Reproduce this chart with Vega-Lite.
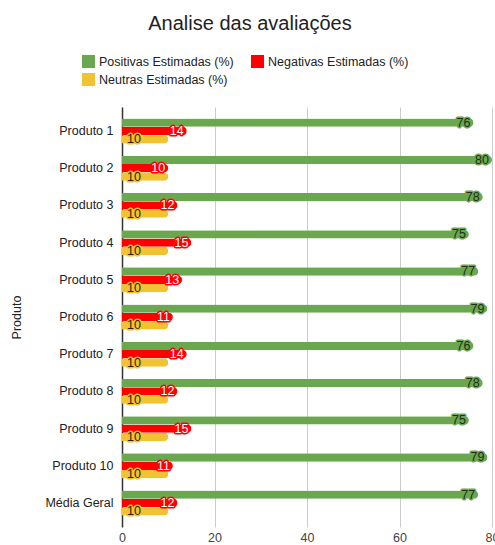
{
  "$schema": "https://vega.github.io/schema/vega-lite/v6.json",
  "autosize": "none",
  "width": 370,
  "height": 420,
  "padding": {"left": 122, "top": 107, "right": 3, "bottom": 18},
  "config": {
    "font": "Liberation Sans",
    "view": {"stroke": null}
  },
  "title": {
    "text": "Analise das avaliações",
    "fontSize": 20,
    "fontWeight": "normal",
    "color": "#222222",
    "anchor": "middle",
    "dx": -57,
    "dy": -17
  },
  "data": {
    "values": [
      {"produto": "Produto 1", "serie": "Positivas Estimadas (%)", "valor": 76},
      {"produto": "Produto 1", "serie": "Negativas Estimadas (%)", "valor": 14},
      {"produto": "Produto 1", "serie": "Neutras Estimadas (%)", "valor": 10},
      {"produto": "Produto 2", "serie": "Positivas Estimadas (%)", "valor": 80},
      {"produto": "Produto 2", "serie": "Negativas Estimadas (%)", "valor": 10},
      {"produto": "Produto 2", "serie": "Neutras Estimadas (%)", "valor": 10},
      {"produto": "Produto 3", "serie": "Positivas Estimadas (%)", "valor": 78},
      {"produto": "Produto 3", "serie": "Negativas Estimadas (%)", "valor": 12},
      {"produto": "Produto 3", "serie": "Neutras Estimadas (%)", "valor": 10},
      {"produto": "Produto 4", "serie": "Positivas Estimadas (%)", "valor": 75},
      {"produto": "Produto 4", "serie": "Negativas Estimadas (%)", "valor": 15},
      {"produto": "Produto 4", "serie": "Neutras Estimadas (%)", "valor": 10},
      {"produto": "Produto 5", "serie": "Positivas Estimadas (%)", "valor": 77},
      {"produto": "Produto 5", "serie": "Negativas Estimadas (%)", "valor": 13},
      {"produto": "Produto 5", "serie": "Neutras Estimadas (%)", "valor": 10},
      {"produto": "Produto 6", "serie": "Positivas Estimadas (%)", "valor": 79},
      {"produto": "Produto 6", "serie": "Negativas Estimadas (%)", "valor": 11},
      {"produto": "Produto 6", "serie": "Neutras Estimadas (%)", "valor": 10},
      {"produto": "Produto 7", "serie": "Positivas Estimadas (%)", "valor": 76},
      {"produto": "Produto 7", "serie": "Negativas Estimadas (%)", "valor": 14},
      {"produto": "Produto 7", "serie": "Neutras Estimadas (%)", "valor": 10},
      {"produto": "Produto 8", "serie": "Positivas Estimadas (%)", "valor": 78},
      {"produto": "Produto 8", "serie": "Negativas Estimadas (%)", "valor": 12},
      {"produto": "Produto 8", "serie": "Neutras Estimadas (%)", "valor": 10},
      {"produto": "Produto 9", "serie": "Positivas Estimadas (%)", "valor": 75},
      {"produto": "Produto 9", "serie": "Negativas Estimadas (%)", "valor": 15},
      {"produto": "Produto 9", "serie": "Neutras Estimadas (%)", "valor": 10},
      {"produto": "Produto 10", "serie": "Positivas Estimadas (%)", "valor": 79},
      {"produto": "Produto 10", "serie": "Negativas Estimadas (%)", "valor": 11},
      {"produto": "Produto 10", "serie": "Neutras Estimadas (%)", "valor": 10},
      {"produto": "Média Geral", "serie": "Positivas Estimadas (%)", "valor": 77},
      {"produto": "Média Geral", "serie": "Negativas Estimadas (%)", "valor": 12},
      {"produto": "Média Geral", "serie": "Neutras Estimadas (%)", "valor": 10}
    ]
  },
  "encoding": {
    "y": {
      "field": "produto",
      "type": "nominal",
      "sort": null,
      "scale": {"paddingInner": 0.33, "paddingOuter": 0.31},
      "axis": {
        "title": "Produto",
        "titleFontSize": 12.5,
        "titleFontWeight": "normal",
        "titleColor": "#222222",
        "titlePadding": 21,
        "labelFontSize": 12.5,
        "labelColor": "#222222",
        "labelPadding": 9,
        "ticks": false,
        "domainColor": "#333333",
        "domainWidth": 1.5
      }
    },
    "yOffset": {
      "field": "serie",
      "type": "nominal",
      "scale": {"domain": ["Positivas Estimadas (%)", "Negativas Estimadas (%)", "Neutras Estimadas (%)"]}
    }
  },
  "layer": [
    {
      "mark": {"type": "bar", "cornerRadiusEnd": 4},
      "encoding": {
        "x": {
          "field": "valor",
          "type": "quantitative",
          "scale": {"domain": [0, 80], "nice": false},
          "axis": {
            "title": null,
            "values": [0, 20, 40, 60, 80],
            "labelFontSize": 12.5,
            "labelColor": "#444444",
            "labelPadding": 4,
            "ticks": false,
            "domain": false,
            "gridColor": "#cccccc",
            "labelFlush": false
          }
        },
        "color": {
          "field": "serie",
          "type": "nominal",
          "scale": {
            "domain": ["Positivas Estimadas (%)", "Negativas Estimadas (%)", "Neutras Estimadas (%)"],
            "range": ["#6aa84f", "#ff0000", "#f1c232"]
          },
          "legend": {
            "title": null,
            "orient": "none",
            "legendX": -40,
            "legendY": -52,
            "direction": "horizontal",
            "columns": 2,
            "symbolType": "square",
            "symbolSize": 169,
            "symbolStrokeWidth": 0,
            "symbolOpacity": 1,
            "labelFontSize": 12.5,
            "labelColor": "#222222",
            "labelLimit": 300,
            "columnPadding": 17,
            "rowPadding": 5
          }
        }
      }
    },
    {
      "transform": [{"filter": "datum.serie !== 'Neutras Estimadas (%)'"}],
      "mark": {"type": "text", "align": "right", "baseline": "middle", "dx": -3, "fontSize": 12.5, "strokeWidth": 3, "strokeJoin": "round"},
      "encoding": {
        "x": {"field": "valor", "type": "quantitative"},
        "text": {"field": "valor", "type": "quantitative"},
        "stroke": {
          "field": "serie",
          "type": "nominal",
          "scale": {
            "domain": ["Positivas Estimadas (%)", "Negativas Estimadas (%)", "Neutras Estimadas (%)"],
            "range": ["#6aa84f", "#ff0000", "#f1c232"]
          },
          "legend": null
        }
      }
    },
    {
      "transform": [{"filter": "datum.serie !== 'Neutras Estimadas (%)'"}],
      "mark": {"type": "text", "align": "right", "baseline": "middle", "dx": -3, "fontSize": 12.5},
      "encoding": {
        "x": {"field": "valor", "type": "quantitative"},
        "text": {"field": "valor", "type": "quantitative"},
        "color": {
          "condition": {"test": "datum.serie === 'Negativas Estimadas (%)'", "value": "#ffffff"},
          "value": "#1f2e17"
        }
      }
    },
    {
      "transform": [{"filter": "datum.serie === 'Neutras Estimadas (%)'"}],
      "mark": {"type": "text", "align": "left", "baseline": "middle", "dx": 5, "fontSize": 12.5, "stroke": "#f1c232", "strokeWidth": 3, "strokeJoin": "round"},
      "encoding": {
        "x": {"datum": 0, "type": "quantitative"},
        "text": {"field": "valor", "type": "quantitative"}
      }
    },
    {
      "transform": [{"filter": "datum.serie === 'Neutras Estimadas (%)'"}],
      "mark": {"type": "text", "align": "left", "baseline": "middle", "dx": 5, "fontSize": 12.5, "color": "#2a2410"},
      "encoding": {
        "x": {"datum": 0, "type": "quantitative"},
        "text": {"field": "valor", "type": "quantitative"}
      }
    }
  ]
}
